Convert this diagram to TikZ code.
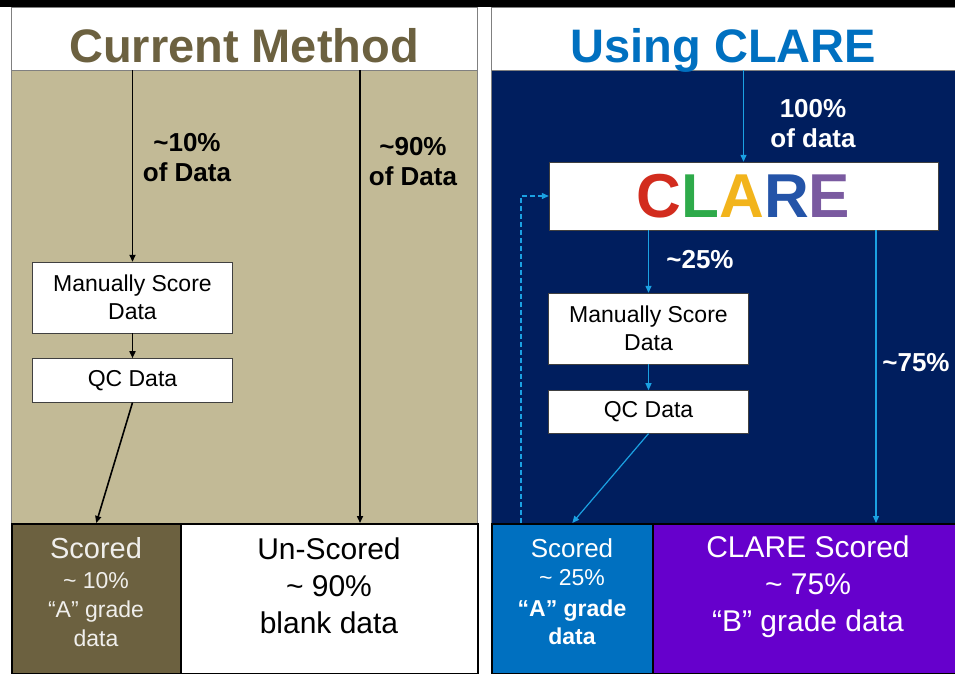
\documentclass[tikz,border=0pt]{standalone}
\usepackage{fontspec}
\setmainfont{Liberation Sans}
\usetikzlibrary{positioning,arrows.meta}
\definecolor{tanbg}{HTML}{C2BA96}
\definecolor{olive}{HTML}{6C6140}
\definecolor{navy}{HTML}{001E5E}
\definecolor{clareblue}{HTML}{0070C0}
\definecolor{clarepurple}{HTML}{6600CC}
\definecolor{flowblue}{HTML}{1BA1E2}
\definecolor{cRed}{HTML}{D22C1E}
\definecolor{cGreen}{HTML}{2EAA4A}
\definecolor{cYellow}{HTML}{F2B41C}
\definecolor{cBlue}{HTML}{2454A8}
\definecolor{cPurple}{HTML}{7A5AA0}
\newcommand{\fs}[1]{\fontsize{#1}{#1}\selectfont}

\begin{document}
\begin{tikzpicture}[x=1pt,y=-1pt,
  titlebox/.style={draw=gray,fill=white,minimum width=466pt,minimum height=63pt,inner sep=0pt,text height=47pt,text depth=0pt,font=\fs{47}\bfseries},
  box/.style={draw=black!75,fill=white,minimum width=200pt,inner sep=0pt,align=center,font=\fontsize{23}{28}\selectfont},
  bottom/.style={draw=black,line width=1.5pt,minimum height=150pt,inner sep=0pt,anchor=north west},
  lbl/.style={align=center,font=\fontsize{26}{30}\selectfont\bfseries},
  flow/.style={-{Triangle[length=7pt,width=6pt]},line width=1.6pt},
  cflow/.style={-{Triangle[length=7pt,width=6pt]},line width=1.2pt,flowblue}]
\useasboundingbox (0,0) rectangle (955,673);
\fill[black] (0,0) rectangle (955,7);
% current method
\draw[gray,fill=tanbg] (11,70) rectangle (477,523);
\node[titlebox,text=olive] (curT) at (244,38.5) {Current Method};
\node[box,minimum height=71pt] (msL) at (132.5,297.5) {Manually Score\\Data};
\node[box,minimum height=44pt,below=25pt of msL] (qcL) {QC Data};
\node[bottom,fill=olive,minimum width=169pt] (scL) at (11,523) {};
\node[bottom,fill=white,minimum width=297pt] (unsc) at (180,523) {};
\coordinate (unsIn) at (360,523);
\draw[flow] (curT.south -| msL.north) -- (msL.north);
\draw[flow] (msL) -- (qcL);
\draw[flow] (qcL.south) -- (scL.north);
\draw[flow] (curT.south -| unsIn) -- (unsIn);
\node[lbl] at (187,158) {\textasciitilde10\%\\of Data};
\node[lbl] at (413,162) {\textasciitilde90\%\\of Data};
\node[text=white!90!olive,font=\fs{29}] at (96,548) {Scored};
\node[text=white!90!olive,align=center,font=\fontsize{23}{29}\selectfont] at (96,610) {\textasciitilde{} 10\%\\“A” grade\\data};
\node[align=center,font=\fontsize{30}{37}\selectfont] at (329,586) {Un-Scored\\\textasciitilde{} 90\%\\blank data};
% using clare
\draw[gray,fill=navy] (491,70) rectangle (956,523);
\node[titlebox,text=clareblue,minimum width=465pt] (useT) at (723.5,38.5) {Using CLARE};
\node[box,minimum width=389pt,minimum height=68pt,font=\fs{62}\bfseries] (clare) at (743.5,196)
  {\textcolor{cRed}{C}\textcolor{cGreen}{L}\textcolor{cYellow}{A}\textcolor{cBlue}{R}\textcolor{cPurple}{E}};
\node[box,minimum height=71pt] (msR) at (648.5,328.5) {Manually Score\\Data};
\node[box,minimum height=43pt,below=26pt of msR] (qcR) {QC Data};
\node[bottom,fill=clareblue,minimum width=161pt] (scR) at (491,523) {};
\node[bottom,fill=clarepurple,minimum width=305pt] (cscR) at (652,523) {};
\coordinate (csIn) at (876,523);
\coordinate (loop) at (521,523);
\draw[cflow] (useT.south -| clare.north) -- (clare.north);
\draw[cflow] (clare.south -| msR.north) -- (msR.north);
\draw[cflow] (msR) -- (qcR);
\draw[cflow] (qcR.south) -- (scR.north);
\draw[cflow] (clare.south -| csIn) -- (csIn);
\draw[cflow,dash pattern=on 5pt off 3pt] (loop) |- (clare.west);
\node[lbl,text=white] at (813,123.5) {100\%\\of data};
\node[lbl,text=white] at (700,260) {\textasciitilde25\%};
\node[lbl,text=white] at (916,363) {\textasciitilde75\%};
\node[text=white,font=\fs{26}] at (572,548) {Scored};
\node[text=white,font=\fs{23}] at (572,578) {\textasciitilde{} 25\%};
\node[text=white,align=center,font=\fontsize{23}{28}\selectfont\bfseries] at (572,622) {“A” grade\\data};
\node[text=white,align=center,font=\fontsize{30}{37}\selectfont] at (808,587) {CLARE Scored\\\textasciitilde{} 75\%\\“B” grade data};
\end{tikzpicture}
\end{document}
